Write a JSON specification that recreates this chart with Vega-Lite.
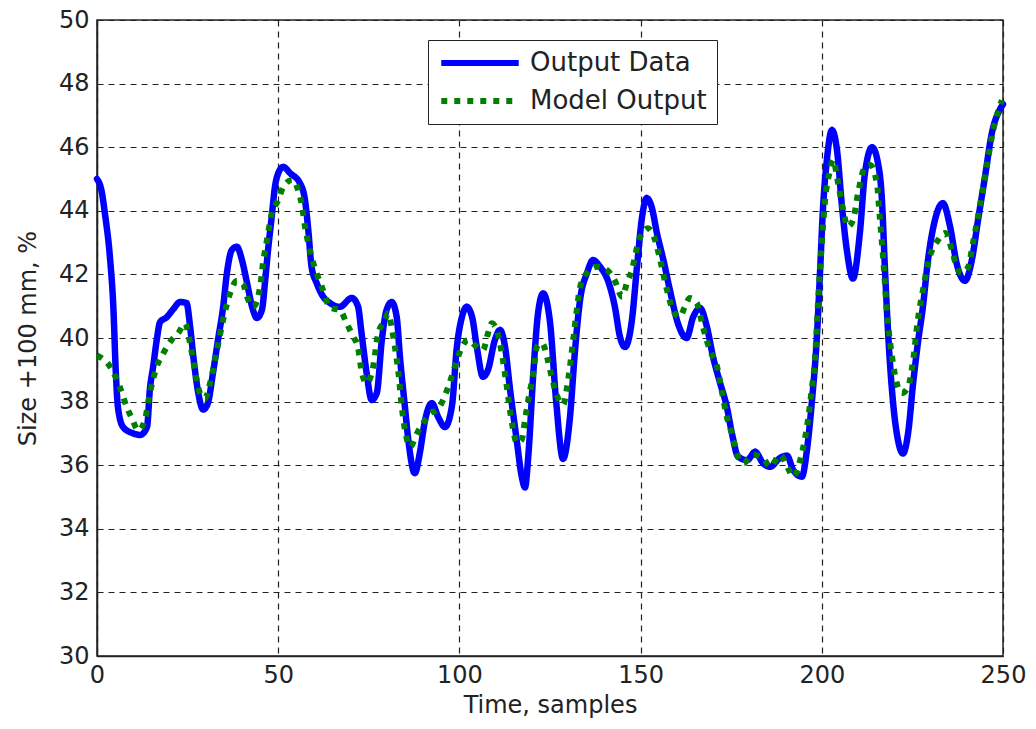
{
  "$schema": "https://vega.github.io/schema/vega-lite/v6.json",
  "width": 906,
  "height": 636,
  "autosize": {"type": "none"},
  "padding": {"left": 97, "top": 20, "right": 33, "bottom": 73},
  "background": "white",
  "data": {
    "values": [
      {"series": "Output Data", "t": 0, "v": 45.0},
      {"series": "Output Data", "t": 1.3, "v": 44.6},
      {"series": "Output Data", "t": 2.2, "v": 43.9},
      {"series": "Output Data", "t": 3.6, "v": 42.5},
      {"series": "Output Data", "t": 4.5, "v": 41.0},
      {"series": "Output Data", "t": 5.2, "v": 38.9},
      {"series": "Output Data", "t": 5.8, "v": 37.8},
      {"series": "Output Data", "t": 7.2, "v": 37.2},
      {"series": "Output Data", "t": 10, "v": 37.0},
      {"series": "Output Data", "t": 11.9, "v": 36.95},
      {"series": "Output Data", "t": 13.8, "v": 37.2},
      {"series": "Output Data", "t": 14.6, "v": 38.4},
      {"series": "Output Data", "t": 15.5, "v": 39.1},
      {"series": "Output Data", "t": 16.5, "v": 39.95},
      {"series": "Output Data", "t": 17.4, "v": 40.5},
      {"series": "Output Data", "t": 19.2, "v": 40.65},
      {"series": "Output Data", "t": 21, "v": 40.9},
      {"series": "Output Data", "t": 22.9, "v": 41.13},
      {"series": "Output Data", "t": 24.7, "v": 41.1},
      {"series": "Output Data", "t": 25.7, "v": 40.35},
      {"series": "Output Data", "t": 26.6, "v": 39.4},
      {"series": "Output Data", "t": 27.9, "v": 38.3},
      {"series": "Output Data", "t": 29.3, "v": 37.75},
      {"series": "Output Data", "t": 30.6, "v": 37.95},
      {"series": "Output Data", "t": 32, "v": 38.9},
      {"series": "Output Data", "t": 33.4, "v": 39.95},
      {"series": "Output Data", "t": 34.8, "v": 40.97},
      {"series": "Output Data", "t": 35.8, "v": 42.0},
      {"series": "Output Data", "t": 37.2, "v": 42.77},
      {"series": "Output Data", "t": 38.6, "v": 42.87},
      {"series": "Output Data", "t": 40, "v": 42.45},
      {"series": "Output Data", "t": 41.4, "v": 41.73},
      {"series": "Output Data", "t": 42.8, "v": 40.98},
      {"series": "Output Data", "t": 44.1, "v": 40.63},
      {"series": "Output Data", "t": 45.5, "v": 40.88},
      {"series": "Output Data", "t": 46.4, "v": 41.8},
      {"series": "Output Data", "t": 47.2, "v": 42.77},
      {"series": "Output Data", "t": 48.2, "v": 43.8},
      {"series": "Output Data", "t": 49.1, "v": 44.75},
      {"series": "Output Data", "t": 50, "v": 45.18},
      {"series": "Output Data", "t": 51.4, "v": 45.38},
      {"series": "Output Data", "t": 53.3, "v": 45.18},
      {"series": "Output Data", "t": 56, "v": 44.87},
      {"series": "Output Data", "t": 57.4, "v": 44.33},
      {"series": "Output Data", "t": 58.3, "v": 43.4},
      {"series": "Output Data", "t": 59.2, "v": 42.24},
      {"series": "Output Data", "t": 60.6, "v": 41.73},
      {"series": "Output Data", "t": 62.4, "v": 41.3},
      {"series": "Output Data", "t": 64.3, "v": 41.1},
      {"series": "Output Data", "t": 67, "v": 40.98},
      {"series": "Output Data", "t": 70.3, "v": 41.26},
      {"series": "Output Data", "t": 72, "v": 41.0},
      {"series": "Output Data", "t": 73, "v": 40.15},
      {"series": "Output Data", "t": 74.4, "v": 38.9},
      {"series": "Output Data", "t": 75.8, "v": 38.05},
      {"series": "Output Data", "t": 77.2, "v": 38.27},
      {"series": "Output Data", "t": 78.6, "v": 39.94},
      {"series": "Output Data", "t": 79.9, "v": 40.88},
      {"series": "Output Data", "t": 81.3, "v": 41.13},
      {"series": "Output Data", "t": 82.7, "v": 40.66},
      {"series": "Output Data", "t": 83.6, "v": 39.4},
      {"series": "Output Data", "t": 85, "v": 37.8},
      {"series": "Output Data", "t": 85.9, "v": 36.8},
      {"series": "Output Data", "t": 87.7, "v": 35.75},
      {"series": "Output Data", "t": 89.1, "v": 36.4},
      {"series": "Output Data", "t": 90.5, "v": 37.4},
      {"series": "Output Data", "t": 92.4, "v": 37.95},
      {"series": "Output Data", "t": 94.2, "v": 37.5},
      {"series": "Output Data", "t": 96, "v": 37.2},
      {"series": "Output Data", "t": 97.9, "v": 37.83},
      {"series": "Output Data", "t": 99.3, "v": 39.72},
      {"series": "Output Data", "t": 100.7, "v": 40.66},
      {"series": "Output Data", "t": 102, "v": 40.98},
      {"series": "Output Data", "t": 103.5, "v": 40.66},
      {"series": "Output Data", "t": 104.8, "v": 39.72},
      {"series": "Output Data", "t": 106.5, "v": 38.78},
      {"series": "Output Data", "t": 107.9, "v": 39.0},
      {"series": "Output Data", "t": 109.8, "v": 39.94},
      {"series": "Output Data", "t": 111.2, "v": 40.25},
      {"series": "Output Data", "t": 112.6, "v": 39.72},
      {"series": "Output Data", "t": 114, "v": 38.36},
      {"series": "Output Data", "t": 115.8, "v": 36.8},
      {"series": "Output Data", "t": 117.2, "v": 35.64},
      {"series": "Output Data", "t": 118.1, "v": 35.3},
      {"series": "Output Data", "t": 119, "v": 36.27},
      {"series": "Output Data", "t": 120.4, "v": 38.9},
      {"series": "Output Data", "t": 121.7, "v": 40.78},
      {"series": "Output Data", "t": 123.1, "v": 41.4},
      {"series": "Output Data", "t": 125, "v": 40.5},
      {"series": "Output Data", "t": 126.7, "v": 38.0},
      {"series": "Output Data", "t": 128.6, "v": 36.2},
      {"series": "Output Data", "t": 130.5, "v": 37.5},
      {"series": "Output Data", "t": 131.9, "v": 39.6},
      {"series": "Output Data", "t": 133.3, "v": 41.2},
      {"series": "Output Data", "t": 135.2, "v": 42.04},
      {"series": "Output Data", "t": 136.9, "v": 42.45},
      {"series": "Output Data", "t": 138.8, "v": 42.24},
      {"series": "Output Data", "t": 141, "v": 41.8},
      {"series": "Output Data", "t": 142.9, "v": 40.98},
      {"series": "Output Data", "t": 144.3, "v": 40.04},
      {"series": "Output Data", "t": 145.7, "v": 39.72},
      {"series": "Output Data", "t": 147.6, "v": 40.56},
      {"series": "Output Data", "t": 149, "v": 42.24},
      {"series": "Output Data", "t": 150.4, "v": 43.8},
      {"series": "Output Data", "t": 151.7, "v": 44.4},
      {"series": "Output Data", "t": 153.1, "v": 44.1},
      {"series": "Output Data", "t": 154.5, "v": 43.3},
      {"series": "Output Data", "t": 156.3, "v": 42.45},
      {"series": "Output Data", "t": 158.1, "v": 41.5},
      {"series": "Output Data", "t": 160.3, "v": 40.46},
      {"series": "Output Data", "t": 162.7, "v": 40.0},
      {"series": "Output Data", "t": 164.5, "v": 40.66},
      {"series": "Output Data", "t": 166.4, "v": 40.94},
      {"series": "Output Data", "t": 168.3, "v": 40.35},
      {"series": "Output Data", "t": 170, "v": 39.4},
      {"series": "Output Data", "t": 171.9, "v": 38.6},
      {"series": "Output Data", "t": 173.8, "v": 37.83},
      {"series": "Output Data", "t": 175.2, "v": 37.0},
      {"series": "Output Data", "t": 176.9, "v": 36.27},
      {"series": "Output Data", "t": 179.4, "v": 36.16},
      {"series": "Output Data", "t": 181.6, "v": 36.42},
      {"series": "Output Data", "t": 183.8, "v": 36.06},
      {"series": "Output Data", "t": 185.7, "v": 35.95},
      {"series": "Output Data", "t": 188.5, "v": 36.23},
      {"series": "Output Data", "t": 190.4, "v": 36.3},
      {"series": "Output Data", "t": 192.1, "v": 35.85},
      {"series": "Output Data", "t": 194.5, "v": 35.64},
      {"series": "Output Data", "t": 195.9, "v": 36.48},
      {"series": "Output Data", "t": 197.3, "v": 38.05},
      {"series": "Output Data", "t": 198.7, "v": 40.15},
      {"series": "Output Data", "t": 199.5, "v": 42.04},
      {"series": "Output Data", "t": 200.3, "v": 44.02},
      {"series": "Output Data", "t": 201.4, "v": 45.6},
      {"series": "Output Data", "t": 202.8, "v": 46.54},
      {"series": "Output Data", "t": 204.2, "v": 45.9},
      {"series": "Output Data", "t": 205.6, "v": 44.1},
      {"series": "Output Data", "t": 206.9, "v": 42.77},
      {"series": "Output Data", "t": 208.6, "v": 41.87},
      {"series": "Output Data", "t": 210.5, "v": 43.3},
      {"series": "Output Data", "t": 211.9, "v": 45.18},
      {"series": "Output Data", "t": 213.9, "v": 46.0},
      {"series": "Output Data", "t": 215.5, "v": 45.5},
      {"series": "Output Data", "t": 216.6, "v": 44.33},
      {"series": "Output Data", "t": 217.4, "v": 42.24},
      {"series": "Output Data", "t": 218.3, "v": 40.15},
      {"series": "Output Data", "t": 219.6, "v": 38.05},
      {"series": "Output Data", "t": 221, "v": 36.8},
      {"series": "Output Data", "t": 222.4, "v": 36.37},
      {"series": "Output Data", "t": 223.8, "v": 37.0},
      {"series": "Output Data", "t": 225.2, "v": 38.58},
      {"series": "Output Data", "t": 226.5, "v": 39.83},
      {"series": "Output Data", "t": 227.9, "v": 40.98},
      {"series": "Output Data", "t": 229.3, "v": 42.45},
      {"series": "Output Data", "t": 231.2, "v": 43.7},
      {"series": "Output Data", "t": 233.4, "v": 44.24},
      {"series": "Output Data", "t": 235.4, "v": 43.5},
      {"series": "Output Data", "t": 237.2, "v": 42.35},
      {"series": "Output Data", "t": 239.5, "v": 41.8},
      {"series": "Output Data", "t": 241.4, "v": 42.45},
      {"series": "Output Data", "t": 243.1, "v": 43.7},
      {"series": "Output Data", "t": 245, "v": 45.05},
      {"series": "Output Data", "t": 246.9, "v": 46.43},
      {"series": "Output Data", "t": 249.2, "v": 47.2},
      {"series": "Output Data", "t": 250, "v": 47.35},

      {"series": "Model Output", "t": 0, "v": 39.45},
      {"series": "Model Output", "t": 3.6, "v": 39.1},
      {"series": "Model Output", "t": 6.3, "v": 38.46},
      {"series": "Model Output", "t": 8.2, "v": 37.83},
      {"series": "Model Output", "t": 9.6, "v": 37.48},
      {"series": "Model Output", "t": 11.4, "v": 37.1},
      {"series": "Model Output", "t": 13.2, "v": 37.42},
      {"series": "Model Output", "t": 14.6, "v": 38.27},
      {"series": "Model Output", "t": 16.5, "v": 39.1},
      {"series": "Model Output", "t": 18.3, "v": 39.52},
      {"series": "Model Output", "t": 20.6, "v": 39.94},
      {"series": "Model Output", "t": 22.4, "v": 40.15},
      {"series": "Model Output", "t": 24.3, "v": 40.46},
      {"series": "Model Output", "t": 25.7, "v": 39.83},
      {"series": "Model Output", "t": 27, "v": 38.99},
      {"series": "Model Output", "t": 28.4, "v": 38.27},
      {"series": "Model Output", "t": 29.8, "v": 38.1},
      {"series": "Model Output", "t": 31.2, "v": 38.58},
      {"series": "Model Output", "t": 33.1, "v": 39.62},
      {"series": "Model Output", "t": 34.8, "v": 40.57},
      {"series": "Model Output", "t": 36.7, "v": 41.4},
      {"series": "Model Output", "t": 38.6, "v": 41.8},
      {"series": "Model Output", "t": 40.3, "v": 41.7},
      {"series": "Model Output", "t": 41.4, "v": 41.3},
      {"series": "Model Output", "t": 43.1, "v": 40.98},
      {"series": "Model Output", "t": 45, "v": 41.6},
      {"series": "Model Output", "t": 45.8, "v": 42.35},
      {"series": "Model Output", "t": 46.9, "v": 43.08},
      {"series": "Model Output", "t": 48.2, "v": 43.9},
      {"series": "Model Output", "t": 50, "v": 44.33},
      {"series": "Model Output", "t": 51.4, "v": 44.75},
      {"series": "Model Output", "t": 53.8, "v": 44.97},
      {"series": "Model Output", "t": 55.5, "v": 44.65},
      {"series": "Model Output", "t": 56.6, "v": 44.13},
      {"series": "Model Output", "t": 57.4, "v": 43.5},
      {"series": "Model Output", "t": 58.3, "v": 42.98},
      {"series": "Model Output", "t": 59.2, "v": 42.55},
      {"series": "Model Output", "t": 60.6, "v": 42.04},
      {"series": "Model Output", "t": 62.4, "v": 41.5},
      {"series": "Model Output", "t": 64.3, "v": 40.95},
      {"series": "Model Output", "t": 67, "v": 40.88},
      {"series": "Model Output", "t": 68.9, "v": 40.46},
      {"series": "Model Output", "t": 70.7, "v": 40.04},
      {"series": "Model Output", "t": 72, "v": 39.72},
      {"series": "Model Output", "t": 73.1, "v": 38.9},
      {"series": "Model Output", "t": 74.4, "v": 38.58},
      {"series": "Model Output", "t": 76.2, "v": 39.1},
      {"series": "Model Output", "t": 77.6, "v": 40.15},
      {"series": "Model Output", "t": 79.5, "v": 40.57},
      {"series": "Model Output", "t": 80.3, "v": 40.78},
      {"series": "Model Output", "t": 81.3, "v": 40.35},
      {"series": "Model Output", "t": 82.2, "v": 39.72},
      {"series": "Model Output", "t": 83.1, "v": 38.99},
      {"series": "Model Output", "t": 84.1, "v": 37.83},
      {"series": "Model Output", "t": 85, "v": 37.1},
      {"series": "Model Output", "t": 86.4, "v": 36.58},
      {"series": "Model Output", "t": 88.3, "v": 37.0},
      {"series": "Model Output", "t": 90, "v": 37.32},
      {"series": "Model Output", "t": 91.9, "v": 37.63},
      {"series": "Model Output", "t": 93.8, "v": 37.73},
      {"series": "Model Output", "t": 95.5, "v": 38.05},
      {"series": "Model Output", "t": 96.9, "v": 38.46},
      {"series": "Model Output", "t": 98.2, "v": 38.9},
      {"series": "Model Output", "t": 99.3, "v": 39.3},
      {"series": "Model Output", "t": 100.7, "v": 39.72},
      {"series": "Model Output", "t": 102.4, "v": 39.94},
      {"series": "Model Output", "t": 104.8, "v": 39.72},
      {"series": "Model Output", "t": 106.5, "v": 39.62},
      {"series": "Model Output", "t": 107.9, "v": 40.15},
      {"series": "Model Output", "t": 108.9, "v": 40.46},
      {"series": "Model Output", "t": 110.3, "v": 40.25},
      {"series": "Model Output", "t": 111.7, "v": 39.52},
      {"series": "Model Output", "t": 113.1, "v": 38.46},
      {"series": "Model Output", "t": 114.5, "v": 37.32},
      {"series": "Model Output", "t": 115.9, "v": 36.7},
      {"series": "Model Output", "t": 117.2, "v": 36.8},
      {"series": "Model Output", "t": 118.1, "v": 37.42},
      {"series": "Model Output", "t": 119, "v": 38.05},
      {"series": "Model Output", "t": 120.4, "v": 38.9},
      {"series": "Model Output", "t": 121.4, "v": 39.72},
      {"series": "Model Output", "t": 122.8, "v": 39.84},
      {"series": "Model Output", "t": 124.2, "v": 39.4},
      {"series": "Model Output", "t": 125, "v": 39.0},
      {"series": "Model Output", "t": 126.9, "v": 38.2},
      {"series": "Model Output", "t": 128.6, "v": 37.9},
      {"series": "Model Output", "t": 130, "v": 38.68},
      {"series": "Model Output", "t": 131.4, "v": 39.94},
      {"series": "Model Output", "t": 132.5, "v": 40.98},
      {"series": "Model Output", "t": 133.3, "v": 41.6},
      {"series": "Model Output", "t": 135.2, "v": 42.04},
      {"series": "Model Output", "t": 138, "v": 42.24},
      {"series": "Model Output", "t": 140.7, "v": 42.14},
      {"series": "Model Output", "t": 142.9, "v": 41.8},
      {"series": "Model Output", "t": 144.9, "v": 41.3},
      {"series": "Model Output", "t": 146.2, "v": 41.72},
      {"series": "Model Output", "t": 147.6, "v": 42.14},
      {"series": "Model Output", "t": 149.3, "v": 42.98},
      {"series": "Model Output", "t": 150.7, "v": 43.34},
      {"series": "Model Output", "t": 152, "v": 43.45},
      {"series": "Model Output", "t": 154, "v": 43.08},
      {"series": "Model Output", "t": 155.4, "v": 42.45},
      {"series": "Model Output", "t": 157.3, "v": 41.5},
      {"series": "Model Output", "t": 158.9, "v": 40.88},
      {"series": "Model Output", "t": 160.8, "v": 40.66},
      {"series": "Model Output", "t": 162.2, "v": 40.98},
      {"series": "Model Output", "t": 163.6, "v": 41.26},
      {"series": "Model Output", "t": 165.5, "v": 41.1},
      {"series": "Model Output", "t": 167.2, "v": 40.35},
      {"series": "Model Output", "t": 169.1, "v": 39.62},
      {"series": "Model Output", "t": 171.1, "v": 39.1},
      {"series": "Model Output", "t": 172.5, "v": 38.27},
      {"series": "Model Output", "t": 173.8, "v": 37.52},
      {"series": "Model Output", "t": 175.2, "v": 37.0},
      {"series": "Model Output", "t": 176.6, "v": 36.37},
      {"series": "Model Output", "t": 178.3, "v": 36.06},
      {"series": "Model Output", "t": 181, "v": 36.32},
      {"series": "Model Output", "t": 183.8, "v": 36.22},
      {"series": "Model Output", "t": 185.7, "v": 35.95},
      {"series": "Model Output", "t": 188.5, "v": 36.32},
      {"series": "Model Output", "t": 190.7, "v": 35.9},
      {"series": "Model Output", "t": 192.1, "v": 35.64},
      {"series": "Model Output", "t": 194.5, "v": 36.37},
      {"series": "Model Output", "t": 195.9, "v": 37.2},
      {"series": "Model Output", "t": 197.3, "v": 38.46},
      {"series": "Model Output", "t": 198.1, "v": 39.3},
      {"series": "Model Output", "t": 199, "v": 41.2},
      {"series": "Model Output", "t": 200, "v": 42.98},
      {"series": "Model Output", "t": 200.9, "v": 44.33},
      {"series": "Model Output", "t": 202.3, "v": 45.28},
      {"series": "Model Output", "t": 203.1, "v": 45.6},
      {"series": "Model Output", "t": 204.5, "v": 44.87},
      {"series": "Model Output", "t": 205.9, "v": 44.02},
      {"series": "Model Output", "t": 207.2, "v": 43.5},
      {"series": "Model Output", "t": 208.6, "v": 43.7},
      {"series": "Model Output", "t": 210, "v": 44.55},
      {"series": "Model Output", "t": 211.9, "v": 45.38},
      {"series": "Model Output", "t": 213.3, "v": 45.44},
      {"series": "Model Output", "t": 215.2, "v": 44.87},
      {"series": "Model Output", "t": 216, "v": 43.8},
      {"series": "Model Output", "t": 216.9, "v": 42.55},
      {"series": "Model Output", "t": 218, "v": 40.78},
      {"series": "Model Output", "t": 219.4, "v": 39.4},
      {"series": "Model Output", "t": 220.7, "v": 38.58},
      {"series": "Model Output", "t": 222.1, "v": 38.27},
      {"series": "Model Output", "t": 223.8, "v": 38.46},
      {"series": "Model Output", "t": 225.2, "v": 39.3},
      {"series": "Model Output", "t": 226.5, "v": 40.57},
      {"series": "Model Output", "t": 227.9, "v": 41.5},
      {"series": "Model Output", "t": 229.8, "v": 42.55},
      {"series": "Model Output", "t": 232.1, "v": 43.08},
      {"series": "Model Output", "t": 234, "v": 43.3},
      {"series": "Model Output", "t": 235.9, "v": 42.77},
      {"series": "Model Output", "t": 237.2, "v": 42.24},
      {"series": "Model Output", "t": 238.6, "v": 42.04},
      {"series": "Model Output", "t": 240.4, "v": 42.24},
      {"series": "Model Output", "t": 241.7, "v": 42.98},
      {"series": "Model Output", "t": 243.6, "v": 44.13},
      {"series": "Model Output", "t": 245.5, "v": 45.38},
      {"series": "Model Output", "t": 247.3, "v": 46.54},
      {"series": "Model Output", "t": 249.7, "v": 47.48}
    ]
  },
  "encoding": {
    "x": {
      "field": "t",
      "type": "quantitative",
      "scale": {"domain": [0, 250], "nice": false, "zero": false},
      "axis": {"values": [0, 50, 100, 150, 200, 250], "title": "Time, samples", "labelPadding": 7, "titlePadding": 6}
    },
    "y": {
      "field": "v",
      "type": "quantitative",
      "scale": {"domain": [30, 50], "nice": false, "zero": false},
      "axis": {"values": [30, 32, 34, 36, 38, 40, 42, 44, 46, 48, 50], "title": "Size +100 mm, %", "labelPadding": 8, "titlePadding": 18}
    },
    "color": {
      "field": "series",
      "type": "nominal",
      "scale": {"domain": ["Output Data", "Model Output"], "range": ["#0000ff", "#007f00"]},
      "legend": {"title": null}
    },
    "strokeDash": {
      "field": "series",
      "type": "nominal",
      "scale": {"domain": ["Output Data", "Model Output"], "range": [[1, 0], [6, 7]]},
      "legend": {"title": null}
    }
  },
  "layer": [
    {
      "transform": [{"filter": "datum.series === 'Output Data'"}],
      "mark": {"type": "line", "interpolate": "monotone", "strokeWidth": 6.5, "strokeJoin": "round", "strokeCap": "round"}
    },
    {
      "transform": [{"filter": "datum.series === 'Model Output'"}],
      "mark": {"type": "line", "interpolate": "monotone", "strokeWidth": 6, "strokeCap": "butt"}
    }
  ],
  "config": {
    "view": {"stroke": "#222222", "strokeWidth": 1.5},
    "axis": {
      "labelFont": "DejaVu Sans",
      "labelFontSize": 24,
      "labelColor": "#222222",
      "titleFont": "DejaVu Sans",
      "titleFontSize": 24,
      "titleFontWeight": "normal",
      "titleColor": "#222222",
      "domainColor": "#222222",
      "domainWidth": 1.5,
      "grid": true,
      "gridColor": "#222222",
      "gridDash": [6, 5],
      "gridOpacity": 1,
      "gridWidth": 1.2,
      "ticks": false,
      "labelFlush": false,
      "labelOverlap": false
    },
    "legend": {
      "orient": "none",
      "legendX": 331,
      "legendY": 20,
      "direction": "vertical",
      "strokeColor": "#222222",
      "fillColor": "white",
      "padding": 10,
      "symbolType": "stroke",
      "symbolSize": 6000,
      "symbolStrokeWidth": 6,
      "clipHeight": 26,
      "rowPadding": 12,
      "labelFont": "DejaVu Sans",
      "labelFontSize": 26,
      "labelLimit": 400,
      "labelColor": "#222222",
      "labelOffset": 8
    }
  }
}
